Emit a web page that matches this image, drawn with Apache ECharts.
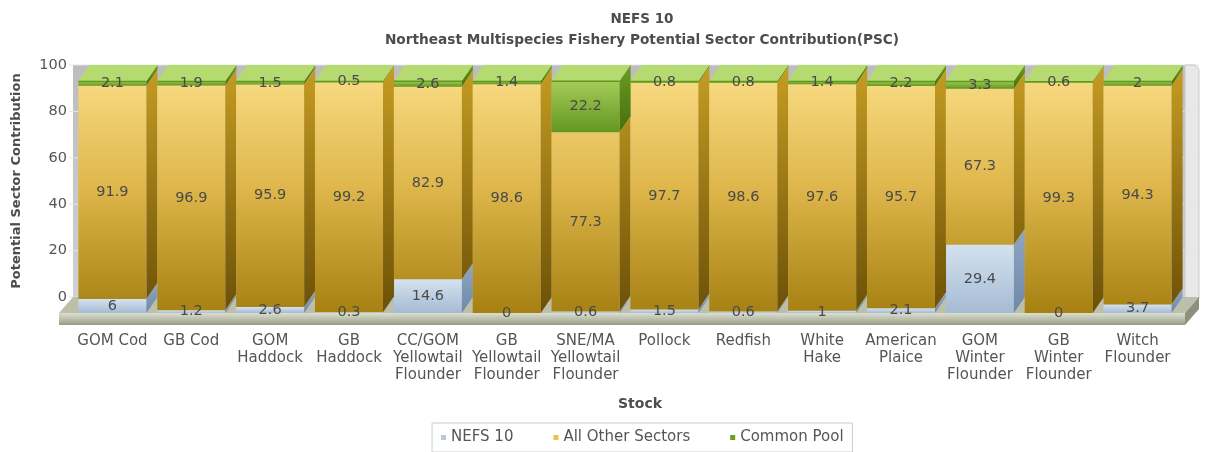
<!DOCTYPE html>
<html>
<head>
<meta charset="utf-8">
<title>NEFS 10</title>
<script src="https://cdn.jsdelivr.net/npm/echarts/dist/echarts.min.js"></script>
<style>
html, body { margin: 0; padding: 0; background: #fff; }
#chart { width: 1210px; height: 452px; }
</style>
</head>
<body>
<div id="chart"></div>
<script>
// data
const stocks = ['GOM Cod', 'GB Cod', 'GOM\nHaddock', 'GB\nHaddock', 'CC/GOM\nYellowtail\nFlounder',
  'GB\nYellowtail\nFlounder', 'SNE/MA\nYellowtail\nFlounder', 'Pollock', 'Redfish', 'White\nHake',
  'American\nPlaice', 'GOM\nWinter\nFlounder', 'GB\nWinter\nFlounder', 'Witch\nFlounder'];
const nefs10 = [6, 1.2, 2.6, 0.3, 14.6, 0, 0.6, 1.5, 0.6, 1, 2.1, 29.4, 0, 3.7];
const otherSectors = [91.9, 96.9, 95.9, 99.2, 82.9, 98.6, 77.3, 97.7, 98.6, 97.6, 95.7, 67.3, 99.3, 94.3];
const commonPool = [2.1, 1.9, 1.5, 0.5, 2.6, 1.4, 22.2, 0.8, 0.8, 1.4, 2.2, 3.3, 0.6, 2];
const yTicks = [0, 20, 40, 60, 80, 100];

const FONT = '"DejaVu Sans", Verdana, sans-serif';
const DX = 11, DY = 16;      // 3d depth offset
const BAR_RATIO = 0.863;

// stacked rows [index, from, to, value]
function stackRows(values, bases) {
  return values.map((v, i) => [i, bases[i], bases[i] + v, v]);
}
const zeros = nefs10.map(() => 0);
const base2 = nefs10.slice();
const base3 = nefs10.map((v, i) => v + otherSectors[i]);

const palettes = {
  nefs: {
    front: [[0, '#d4e2ef'], [1, '#a5bbd3']],
    side: [[0, '#8ea6c2'], [1, '#6f89a8']],
    top: '#dfe9f3'
  },
  other: {
    global: true,
    front: [[0, '#f7d97f'], [0.45, '#dfb74c'], [1, '#a68112']],
    side: [[0, '#c69d22'], [1, '#6c5006']],
    top: '#f3d98c'
  },
  pool: {
    front: [[0, '#a4cd58'], [1, '#63961f']],
    side: [[0, '#6c9c22'], [1, '#456f0c']],
    top: '#b5da70',
    edge: '#5f9a1c'
  }
};

function grad(y0, y1, stops) {
  return new echarts.graphic.LinearGradient(0, y0, 0, y1,
    stops.map(s => ({ offset: s[0], color: s[1] })), true);
}

function segmentRenderer(pal) {
  return function (params, api) {
    const i = api.value(0), lo = api.value(1), hi = api.value(2), val = api.value(3);
    const band = api.size([1, 0])[0];
    const w = band * BAR_RATIO;
    const pLo = api.coord([i, lo]);
    const pHi = api.coord([i, hi]);
    const x0 = pLo[0] - w / 2, x1 = pLo[0] + w / 2;
    const yb = pLo[1] + DY, yt = pHi[1] + DY;
    let g0 = yt, g1 = yb;
    if (pal.global) {
      g0 = api.coord([0, 100])[1] + DY;
      g1 = api.coord([0, 0])[1] + DY;
    }
    const children = [];
    if (hi > lo) {
      children.push({
        type: 'rect',
        shape: { x: x0, y: yt, width: w, height: yb - yt },
        style: { fill: grad(g0, g1, pal.front) }
      });
      children.push({
        type: 'polygon',
        shape: { points: [[x1, yt], [x1 + DX, yt - DY], [x1 + DX, yb - DY], [x1, yb]] },
        style: { fill: grad(g0 - DY, g1, pal.side) }
      });
      children.push({
        type: 'polygon',
        shape: { points: [[x0, yt], [x0 + DX, yt - DY], [x1 + DX, yt - DY], [x1, yt]] },
        style: { fill: grad(yt - DY, yt, [[0, '#ffffff'], [0.001, pal.top], [1, pal.top]]) }
      });
      if (pal.edge) {
        children.push({
          type: 'line',
          shape: { x1: x0, y1: yt + 0.5, x2: x1, y2: yt + 0.5 },
          style: { stroke: pal.edge, lineWidth: 1.5 }
        });
      }
    }
    children.push({
      type: 'text',
      z2: 100,
      x: (x0 + x1) / 2,
      y: (yt + yb) / 2,
      style: {
        text: String(val), align: 'center', verticalAlign: 'middle',
        fill: '#4a4a4a', font: '14.5px ' + FONT
      }
    });
    return { type: 'group', children: children };
  };
}

// back wall, side wall and floor
function renderFrame(params, api) {
  const n = stocks.length;
  const band = api.size([1, 0])[0];
  const left = api.coord([0, 0])[0] - band / 2;
  const right = api.coord([n - 1, 0])[0] + band / 2;
  const y0 = api.coord([0, 0])[1];
  const y100 = api.coord([0, 100])[1];
  const wr = right + 8;
  const children = [];
  children.push({
    type: 'rect',
    shape: { x: left, y: y100, width: wr - left, height: y0 - y100 },
    style: { fill: grad(y100, y0, [[0, '#bdbdbd'], [1, '#d0d0d0']]) }
  });
  yTicks.forEach(t => {
    const y = api.coord([0, t])[1];
    children.push({
      type: 'line',
      shape: { x1: left - 4, y1: y, x2: wr + 14, y2: y },
      style: { stroke: '#e6e6e6', lineWidth: 1 }
    });
  });
  children.push({
    type: 'rect',
    shape: { x: wr, y: y100, width: 14, height: y0 - y100 + 2, r: [0, 6, 0, 0] },
    style: { fill: 'rgba(228,228,228,0.85)', stroke: '#c8c8c8', lineWidth: 1 }
  });
  // floor slab
  const fl = left - DX - 3, fr = wr;
  children.push({
    type: 'polygon',
    shape: { points: [[left, y0], [fr + DX + 3, y0], [fr, y0 + DY], [fl, y0 + DY]] },
    style: { fill: '#bcc0aa' }
  });
  children.push({
    type: 'rect',
    shape: { x: fl, y: y0 + DY, width: fr - fl, height: 12 },
    style: { fill: grad(y0 + DY, y0 + DY + 12, [[0, '#dcdfcf'], [1, '#9a9e88']]) }
  });
  children.push({
    type: 'polygon',
    shape: { points: [[fr, y0 + DY], [fr + DX + 3, y0], [fr + DX + 3, y0 + 12], [fr, y0 + DY + 12]] },
    style: { fill: '#8d917b' }
  });
  return { type: 'group', children: children };
}

const chart = echarts.init(document.getElementById('chart'));
const option = {
  animation: false,
  backgroundColor: '#fff',
  textStyle: { fontFamily: FONT },
  title: {
    text: 'NEFS 10',
    subtext: 'Northeast Multispecies Fishery Potential Sector Contribution(PSC)',
    left: 637,
    top: 7,
    textAlign: 'center',
    itemGap: 7,
    textStyle: { fontFamily: FONT, fontSize: 13.5, fontWeight: 'bold', color: '#4d4d4d' },
    subtextStyle: { fontFamily: FONT, fontSize: 13.7, fontWeight: 'bold', color: '#4d4d4d' }
  },
  legend: {
    left: 432,
    top: 423,
    icon: 'rect',
    itemWidth: 5,
    itemHeight: 5,
    itemGap: 40,
    padding: [7, 9, 7, 9],
    borderColor: '#cccccc',
    borderWidth: 1,
    backgroundColor: '#fff',
    textStyle: { fontFamily: FONT, fontSize: 15, color: '#555' },
    data: ['NEFS 10', 'All Other Sectors', 'Common Pool']
  },
  grid: { left: 73, right: 33, top: 65, bottom: 155, containLabel: false },
  xAxis: {
    type: 'category',
    data: stocks,
    name: 'Stock',
    nameLocation: 'middle',
    nameGap: 100,
    nameTextStyle: {
      fontFamily: FONT, fontSize: 14, fontWeight: 'bold', color: '#4d4d4d',
      verticalAlign: 'top', padding: [0, 0, 0, 30]
    },
    axisLine: { show: false },
    axisTick: { show: false },
    splitLine: { show: false },
    axisLabel: {
      interval: 0, margin: 36, fontSize: 15, lineHeight: 17,
      color: '#555', fontFamily: FONT
    }
  },
  yAxis: {
    type: 'value',
    min: 0,
    max: 100,
    interval: 20,
    name: 'Potential Sector Contribution',
    nameLocation: 'middle',
    nameGap: 50,
    nameRotate: 90,
    nameTextStyle: { fontFamily: FONT, fontSize: 13, fontWeight: 'bold', color: '#4d4d4d' },
    axisLine: { show: false },
    axisTick: { show: false },
    splitLine: { show: false },
    axisLabel: { margin: 6, fontSize: 14.5, color: '#555', fontFamily: FONT }
  },
  series: [
    {
      name: 'frame',
      type: 'custom',
      silent: true,
      z: 1,
      renderItem: renderFrame,
      data: [[0, 0]],
      encode: { x: 0, y: 1 }
    },
    {
      name: 'NEFS 10',
      type: 'custom',
      itemStyle: { color: '#b9c9db' },
      renderItem: segmentRenderer(palettes.nefs),
      data: stackRows(nefs10, zeros),
      encode: { x: 0, y: 2 }
    },
    {
      name: 'All Other Sectors',
      type: 'custom',
      itemStyle: { color: '#e9c24f' },
      renderItem: segmentRenderer(palettes.other),
      data: stackRows(otherSectors, base2),
      encode: { x: 0, y: 2 }
    },
    {
      name: 'Common Pool',
      type: 'custom',
      itemStyle: { color: '#6b9e1f' },
      renderItem: segmentRenderer(palettes.pool),
      data: stackRows(commonPool, base3),
      encode: { x: 0, y: 2 }
    }
  ]
};
chart.setOption(option);
</script>
</body>
</html>
